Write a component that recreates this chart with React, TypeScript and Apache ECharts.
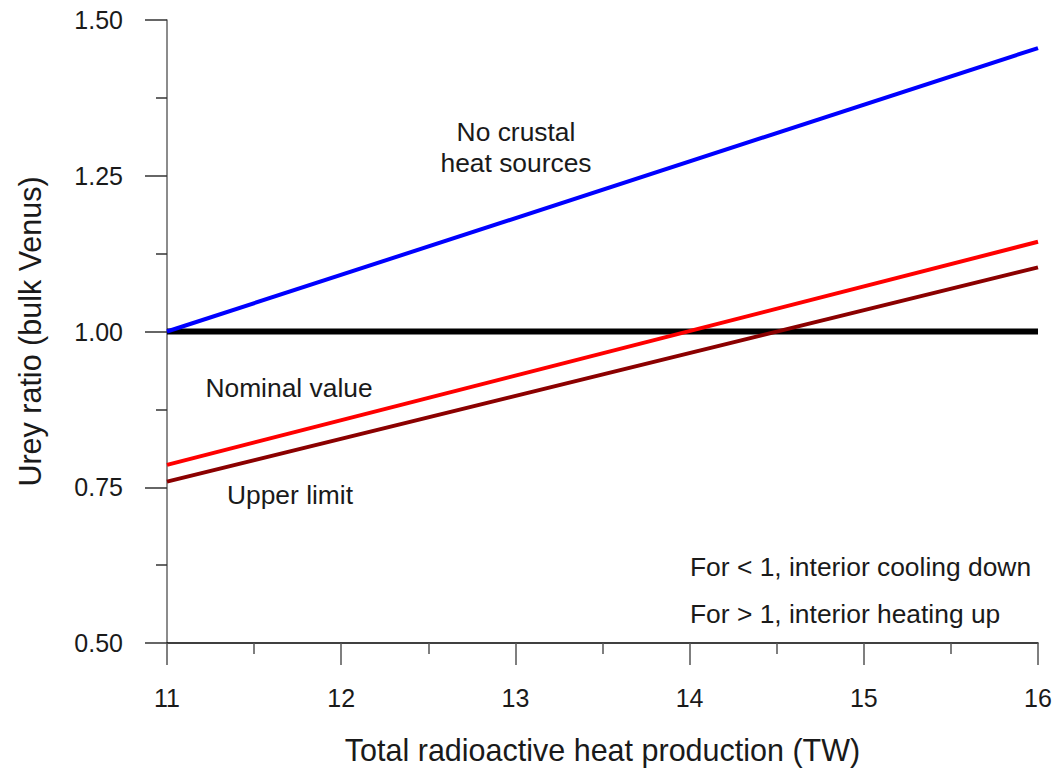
import React, { useEffect, useRef } from "react";
import * as echarts from "echarts";

const xRange = [11, 16];
const noCrustal = [
  [11, 1.0],
  [16, 1.455],
];
const nominal = [
  [11, 0.786],
  [16, 1.144],
];
const upperLimit = [
  [11, 0.759],
  [16, 1.103],
];
const unity = [
  [11, 1.0],
  [16, 1.0],
];

const FONT = "'Liberation Sans', Arial, Helvetica, sans-serif";
const TXT = "#1a1a1a";
const ANN = 26.4;

export default function App() {
  const ref = useRef<HTMLDivElement>(null);
  useEffect(() => {
    if (!ref.current) return;
    const chart = echarts.init(ref.current, null, { renderer: "svg" });
    const lineSeries = (name: string, data: number[][], color: string, width: number) => ({
      name,
      type: "line",
      data,
      symbol: "none",
      lineStyle: { color, width },
      itemStyle: { color },
      silent: true,
    });
    const ann = (text: string, x: number, y: number, align: string) => ({
      type: "text",
      x,
      y,
      style: { text, fontSize: ANN, fill: TXT, fontFamily: FONT, align, verticalAlign: "middle" },
    });
    chart.setOption({
      animation: false,
      backgroundColor: "#ffffff",
      textStyle: { fontFamily: FONT },
      grid: { left: 167, right: 21, top: 20, bottom: 132, containLabel: false },
      xAxis: {
        type: "value",
        min: xRange[0],
        max: xRange[1],
        interval: 1,
        name: "Total radioactive heat production (TW)",
        nameLocation: "middle",
        nameGap: 91,
        nameTextStyle: { fontSize: 30.5, color: TXT, fontFamily: FONT },
        axisLine: { show: true, onZero: false, lineStyle: { color: "#000", width: 1.5 } },
        axisTick: { show: true, inside: false, length: 22, lineStyle: { color: "#555", width: 1.5 } },
        minorTick: { show: true, splitNumber: 2, length: 11, lineStyle: { color: "#555", width: 1.5 } },
        axisLabel: { fontSize: 25, color: TXT, margin: 42, fontFamily: FONT },
        splitLine: { show: false },
        minorSplitLine: { show: false },
      },
      yAxis: {
        type: "value",
        min: 0.5,
        max: 1.5,
        interval: 0.25,
        name: "Urey ratio (bulk Venus)",
        nameLocation: "middle",
        nameGap: 122,
        nameTextStyle: { fontSize: 30.5, color: TXT, fontFamily: FONT },
        axisLine: { show: true, onZero: false, lineStyle: { color: "#666", width: 1.5 } },
        axisTick: { show: true, inside: false, length: 22, lineStyle: { color: "#333", width: 1.5 } },
        minorTick: { show: true, splitNumber: 2, length: 11, lineStyle: { color: "#333", width: 1.5 } },
        axisLabel: {
          fontSize: 25,
          color: TXT,
          margin: 44,
          fontFamily: FONT,
          formatter: (v: number) => v.toFixed(2),
        },
        splitLine: { show: false },
        minorSplitLine: { show: false },
      },
      series: [
        lineSeries("Unity", unity, "#000000", 6),
        lineSeries("Upper limit", upperLimit, "#8b0000", 4),
        lineSeries("Nominal value", nominal, "#ff0000", 4),
        lineSeries("No crustal heat sources", noCrustal, "#0000ff", 4),
      ],
      graphic: [
        ann("No crustal", 516, 132, "center"),
        ann("heat sources", 516, 163, "center"),
        ann("Nominal value", 289, 388, "center"),
        ann("Upper limit", 290, 495, "center"),
        ann("For < 1, interior cooling down", 690, 567, "left"),
        ann("For > 1, interior heating up", 690, 614, "left"),
      ],
    });
    return () => chart.dispose();
  }, []);
  return (
    <div
      ref={ref}
      style={{ position: "absolute", left: 0, top: 0, width: 1059, height: 775, background: "#fff" }}
    />
  );
}
